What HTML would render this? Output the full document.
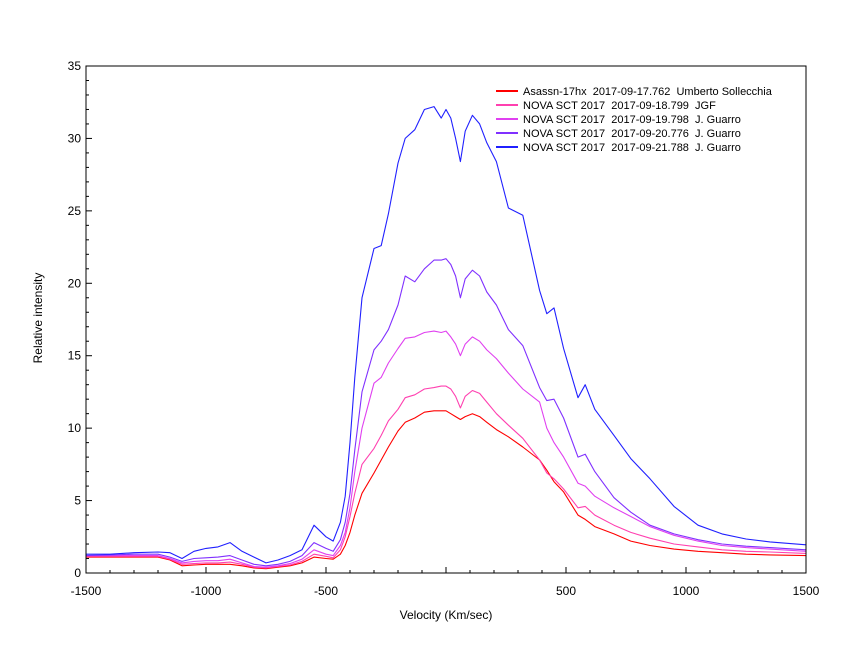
<!DOCTYPE html>
<html><head><meta charset="utf-8"><style>
body{margin:0;background:#fff}
svg{display:block;font-family:"Liberation Sans",sans-serif;font-size:12px}
.lg{font-size:11px;white-space:pre}
</style></head><body>
<svg id="c" width="850" height="650">
<rect x="0" y="0" width="850" height="650" fill="#fff"/>
<g id="grid"></g>
<g id="series"></g>
<rect x="86" y="66" width="720" height="507" fill="none" stroke="#000" stroke-width="1"/>
<text x="42" y="318" transform="rotate(-90 42 318)" text-anchor="middle">Relative intensity</text>
<text x="446" y="619" text-anchor="middle">Velocity (Km/sec)</text>
<g id="legend"></g>
</svg>
<script>
const velocities=[-1500,-1400,-1300,-1200,-1150,-1100,-1050,-1000,-950,-900,-850,-800,-750,-700,-650,-600,-550,-500,-470,-440,-420,-400,-380,-350,-300,-270,-240,-200,-170,-130,-90,-50,-20,0,20,40,60,80,110,140,170,210,260,320,390,420,450,490,550,580,620,700,770,850,950,1050,1150,1250,1350,1500];
const redValues=[1.1,1.1,1.1,1.1,0.9,0.5,0.55,0.6,0.6,0.6,0.5,0.35,0.3,0.4,0.5,0.7,1.1,1.0,0.95,1.3,1.9,2.8,4,5.5,6.9,7.8,8.7,9.8,10.4,10.7,11.1,11.2,11.2,11.2,11.0,10.8,10.6,10.8,11,10.8,10.4,9.9,9.4,8.7,7.8,7.1,6.3,5.6,4,3.7,3.2,2.7,2.2,1.9,1.65,1.5,1.4,1.3,1.25,1.2];
const pinkValues=[1.15,1.15,1.15,1.15,0.95,0.6,0.65,0.7,0.7,0.75,0.6,0.4,0.35,0.45,0.55,0.8,1.3,1.15,1.05,1.6,2.5,3.9,5.5,7.5,8.6,9.5,10.5,11.3,12.1,12.3,12.7,12.8,12.9,12.9,12.7,12.2,11.4,12.2,12.6,12.4,11.8,11,10.2,9.3,7.8,6.9,6.5,5.8,4.5,4.6,4,3.3,2.8,2.4,2.0,1.8,1.6,1.5,1.45,1.35];
const magentaValues=[1.2,1.2,1.2,1.2,1.0,0.7,0.8,0.85,0.85,0.95,0.7,0.45,0.4,0.5,0.65,0.95,1.6,1.3,1.2,1.9,2.8,4.5,7,10,13.1,13.5,14.5,15.5,16.2,16.3,16.6,16.7,16.6,16.7,16.3,15.8,15.0,15.8,16.3,16,15.4,14.8,13.8,12.7,11.8,10,9,8,6.2,6,5.3,4.5,3.9,3.2,2.6,2.2,1.9,1.75,1.65,1.5];
const purpleValues=[1.2,1.25,1.3,1.3,1.1,0.8,1.0,1.05,1.1,1.2,0.9,0.6,0.5,0.6,0.8,1.2,2.1,1.7,1.5,2.3,3.5,5.5,8.5,12.5,15.4,16,16.8,18.5,20.5,20.1,21,21.6,21.6,21.7,21.3,20.5,19,20.3,20.9,20.5,19.4,18.5,16.8,15.7,12.8,11.9,12,10.7,8,8.2,7,5.2,4.2,3.3,2.7,2.3,2,1.85,1.75,1.6];
const blueValues=[1.3,1.3,1.4,1.45,1.4,1.0,1.5,1.7,1.8,2.1,1.5,1.1,0.7,0.9,1.2,1.6,3.3,2.5,2.2,3.5,5.3,9,13.5,19,22.4,22.6,24.8,28.3,30,30.6,32,32.2,31.4,32,31.4,30,28.4,30.5,31.6,31,29.7,28.4,25.2,24.7,19.5,17.9,18.3,15.5,12.1,13,11.3,9.5,7.9,6.5,4.6,3.3,2.7,2.35,2.15,1.95];
const seriesNames=["Asassn-17hx  2017-09-17.762  Umberto Sollecchia","NOVA SCT 2017  2017-09-18.799  JGF","NOVA SCT 2017  2017-09-19.798  J. Guarro","NOVA SCT 2017  2017-09-20.776  J. Guarro","NOVA SCT 2017  2017-09-21.788  J. Guarro"];
const xTickLabels=[-1500,-1000,-500,500,1000,1500];
const yTickLabels=[0,5,10,15,20,25,30,35];

const NS="http://www.w3.org/2000/svg";
const X0=86,X1=806,Y0=573,Y1=66;
const xs=v=>X0+(v+1500)/3000*(X1-X0);
const ys=v=>Y0-v/35*(Y0-Y1);
function mk(t,a,p){const e=document.createElementNS(NS,t);for(const k in a)e.setAttribute(k,a[k]);p.appendChild(e);return e;}
const g=document.getElementById('grid');
for(let v=-1500;v<=1500;v+=100){
  const major=v%500===0;
  const t=mk('line',{x1:xs(v),x2:xs(v),y1:Y0,y2:Y0-(major?6:3),stroke:'#000'},g);
  
  
}
xTickLabels.forEach(v=>{
  const t=mk('text',{x:xs(v),y:Y0+22,'text-anchor':'middle'},g);t.textContent=v;
  
  
});
for(let v=0;v<=35;v+=1){
  const major=v%5===0;
  const t=mk('line',{x1:X0,x2:X0+(major?6:3),y1:ys(v),y2:ys(v),stroke:'#000'},g);
  
  
}
yTickLabels.forEach(v=>{
  const t=mk('text',{x:X0-5,y:ys(v)+4,'text-anchor':'end'},g);t.textContent=v;
  
  
});
const all=[redValues,pinkValues,magentaValues,purpleValues,blueValues];
const colors=['#ff0000','#ff40b0','#e040f0','#8030ff','#2020ff'];
const sg=document.getElementById('series');
all.forEach((vals,i)=>{
  const d=vals.map((v,j)=>(j?'L':'M')+xs(velocities[j]).toFixed(1)+','+ys(v).toFixed(1)).join('');
  const p=mk('path',{d:d,fill:'none',stroke:colors[i],'stroke-width':1.1,'stroke-linejoin':'round'},sg);
  
  
});
const lg=document.getElementById('legend');
seriesNames.forEach((n,i)=>{
  const y=91+i*14;
  const l=mk('line',{x1:496,x2:518,y1:y,y2:y,stroke:colors[i],'stroke-width':2},lg);
  
  
  const t=mk('text',{x:523,y:y+4,'class':'lg'},lg);t.textContent=n;
  
  
});
</script>
</body></html>
